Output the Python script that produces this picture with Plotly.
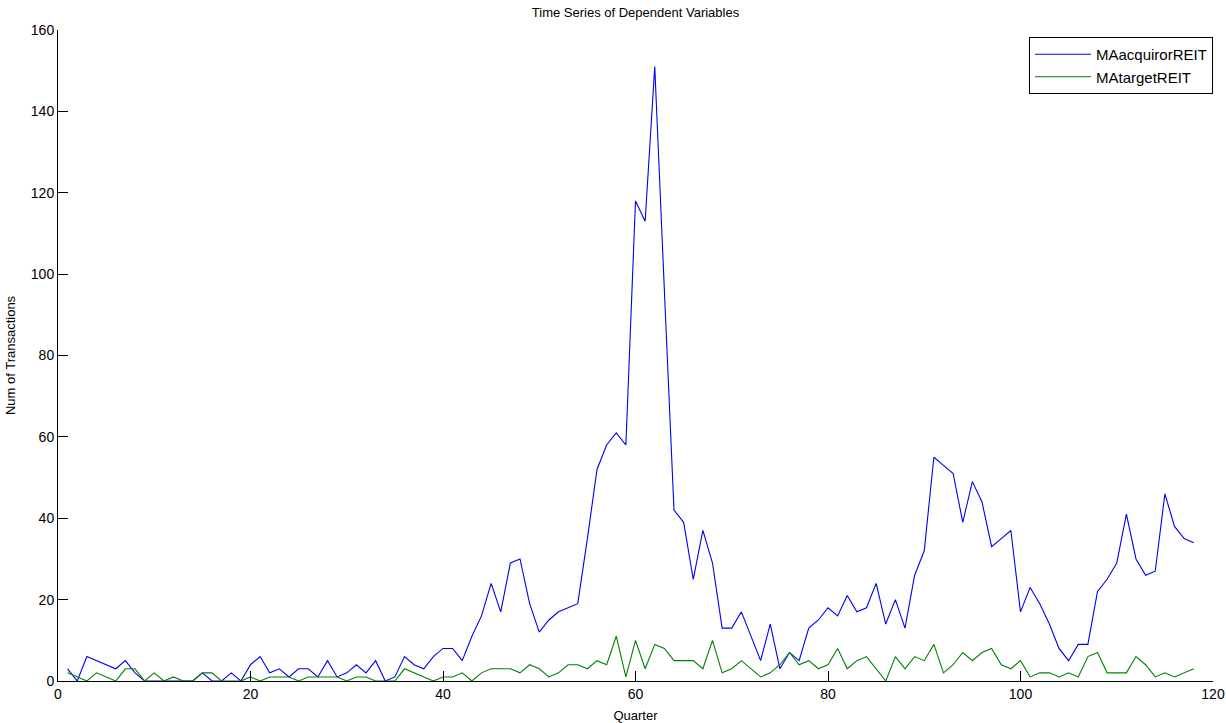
import plotly.graph_objects as go

quarters = list(range(1, 119))

ma_acquiror_reit = [
    3, 0, 6, 5, 4, 3, 5, 2, 0, 0,
    0, 0, 0, 0, 2, 0, 0, 2, 0, 4,
    6, 2, 3, 1, 3, 3, 1, 5, 1, 2,
    4, 2, 5, 0, 1, 6, 4, 3, 6, 8,
    8, 5, 11, 16, 24, 17, 29, 30, 19, 12,
    15, 17, 18, 19, 35, 52, 58, 61, 58, 118,
    113, 151, 96, 42, 39, 25, 37, 29, 13, 13,
    17, 11, 5, 14, 3, 7, 5, 13, 15, 18,
    16, 21, 17, 18, 24, 14, 20, 13, 26, 32,
    55, 53, 51, 39, 49, 44, 33, 35, 37, 17,
    23, 19, 14, 8, 5, 9, 9, 22, 25, 29,
    41, 30, 26, 27, 46, 38, 35, 34,
]

ma_target_reit = [
    2, 1, 0, 2, 1, 0, 3, 3, 0, 2,
    0, 1, 0, 0, 2, 2, 0, 0, 0, 1,
    0, 1, 1, 1, 0, 1, 1, 1, 1, 0,
    1, 1, 0, 0, 0, 3, 2, 1, 0, 1,
    1, 2, 0, 2, 3, 3, 3, 2, 4, 3,
    1, 2, 4, 4, 3, 5, 4, 11, 1, 10,
    3, 9, 8, 5, 5, 5, 3, 10, 2, 3,
    5, 3, 1, 2, 4, 7, 4, 5, 3, 4,
    8, 3, 5, 6, 3, 0, 6, 3, 6, 5,
    9, 2, 4, 7, 5, 7, 8, 4, 3, 5,
    1, 2, 2, 1, 2, 1, 6, 7, 2, 2,
    2, 6, 4, 1, 2, 1, 2, 3,
]

x_ticks = [0, 20, 40, 60, 80, 100, 120]
y_ticks = [0, 20, 40, 60, 80, 100, 120, 140, 160]

FONT = "Liberation Sans, Arial, Helvetica, sans-serif"

W, H = 1226, 723

fig = go.Figure()
fig.add_trace(go.Scatter(
    x=quarters, y=ma_acquiror_reit, mode="lines", name="MAacquirorREIT",
    line=dict(color="#0000f0", width=1.1),
))
fig.add_trace(go.Scatter(
    x=quarters, y=ma_target_reit, mode="lines", name="MAtargetREIT",
    line=dict(color="#008000", width=1.1),
))

fig.update_layout(
    width=W, height=H,
    margin=dict(l=58, r=13, t=30, b=42, autoexpand=False),
    paper_bgcolor="white", plot_bgcolor="white",
    font=dict(family=FONT, size=14, color="black"),
    title=dict(
        text="Time Series of Dependent Variables",
        x=0.5, xref="paper", xanchor="center",
        y=1 - 12 / H, yref="container", yanchor="middle",
        font=dict(size=13, color="black"),
    ),
    showlegend=True,
    legend=dict(
        x=1, xanchor="right", xref="paper",
        y=(681 - 37) / 651, yanchor="top", yref="paper",
        bgcolor="white", bordercolor="black", borderwidth=1,
        font=dict(size=15, color="black"),
        tracegroupgap=0,
        itemwidth=56,
    ),
)

fig.update_xaxes(
    range=[0, 120], tickvals=x_ticks, ticktext=[str(v) for v in x_ticks],
    ticks="inside", ticklen=10, tickwidth=1, tickcolor="black",
    showline=True, linecolor="black", linewidth=1,
    showgrid=False, zeroline=False, mirror=False, automargin=False,
    tickfont=dict(size=14, color="black"),
    title=dict(text="Quarter", standoff=15, font=dict(size=13, color="black")),
)
fig.update_yaxes(
    range=[0, 160], tickvals=y_ticks, ticktext=[str(v) for v in y_ticks],
    ticks="inside", ticklen=10, tickwidth=1, tickcolor="black",
    showline=True, linecolor="black", linewidth=1,
    showgrid=False, zeroline=False, mirror=False, automargin=False,
    tickfont=dict(size=14, color="black"),
    title=dict(text="Num of Transactions", standoff=12, font=dict(size=13, color="black")),
)

fig.write_html(
    "out.html",
    config={"displayModeBar": False},
    post_script="document.body.style.margin='0';document.body.style.overflow='hidden';",
)
